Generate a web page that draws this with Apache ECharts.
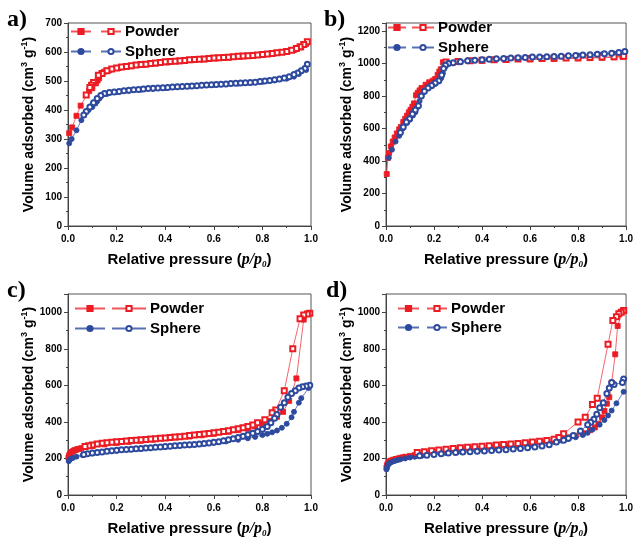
<!DOCTYPE html>
<html><head><meta charset="utf-8">
<script src="https://cdn.jsdelivr.net/npm/echarts@6/dist/echarts.min.js"></script>
<style>html,body{margin:0;padding:0;background:#fff}#c{width:636px;height:539px}</style>
</head><body><div id="c"></div>
<script>
// ---- data: [relative pressure p/p0, volume adsorbed cm3/g] ----
const xTicks = [0, 0.2, 0.4, 0.6, 0.8, 1.0];
const panelLabels = ['a)', 'b)', 'c)', 'd)'];
const legendNames = ['Powder', 'Sphere'];
const yMax = [700, 1250, 1100, 1100];
const yStep = [100, 200, 200, 200];

const aPowderAds = [[0.005,320],[0.017,340],[0.035,380],[0.052,415],[0.087,465],[0.1,475],[0.115,492],[0.122,502],[0.128,510],[0.148,532],[0.17,537],[0.21,545],[0.26,551],[0.31,556],[0.36,560],[0.41,564],[0.46,568],[0.51,572],[0.56,575],[0.61,578],[0.66,581],[0.71,584],[0.76,588],[0.81,592],[0.86,597],[0.9,603],[0.93,607],[0.96,616],[0.98,628]];
const aPowderDes = [[0.985,635],[0.97,626],[0.955,618],[0.94,612],[0.92,606],[0.9,602],[0.88,599],[0.86,597],[0.84,595],[0.82,593],[0.8,591],[0.78,590],[0.76,588],[0.74,587],[0.72,586],[0.7,585],[0.68,584],[0.66,582],[0.64,581],[0.62,580],[0.6,579],[0.58,578],[0.56,576],[0.54,575],[0.52,574],[0.5,573],[0.48,571],[0.46,570],[0.44,568],[0.42,567],[0.4,566],[0.38,564],[0.36,562],[0.34,560],[0.32,558],[0.3,557],[0.28,555],[0.26,553],[0.24,550],[0.22,548],[0.2,545],[0.18,541],[0.16,535],[0.14,526],[0.125,520],[0.105,495],[0.097,485],[0.09,478],[0.075,452]];
const aSphereAds = [[0.005,285],[0.015,300],[0.035,330],[0.055,365],[0.085,400],[0.1,410],[0.113,422],[0.12,430],[0.13,440],[0.16,455],[0.2,462],[0.25,466],[0.3,470],[0.35,473],[0.4,476],[0.45,479],[0.5,482],[0.55,485],[0.6,487],[0.65,489],[0.7,491],[0.75,494],[0.8,497],[0.85,502],[0.9,508],[0.93,515],[0.95,524],[0.98,538]];
const aSphereDes = [[0.985,558],[0.975,543],[0.96,535],[0.945,528],[0.93,522],[0.91,515],[0.89,510],[0.87,507],[0.85,504],[0.83,502],[0.81,500],[0.79,498],[0.77,496],[0.75,495],[0.73,494],[0.71,493],[0.69,492],[0.67,491],[0.65,490],[0.63,489],[0.61,488],[0.59,487],[0.57,486],[0.55,485],[0.53,484],[0.51,483],[0.49,482],[0.47,481],[0.45,480],[0.43,479],[0.41,478],[0.39,477],[0.37,476],[0.35,475],[0.33,474],[0.31,472],[0.29,471],[0.27,470],[0.25,468],[0.23,466],[0.21,464],[0.19,462],[0.17,460],[0.15,457],[0.135,450],[0.12,440],[0.105,425],[0.09,410],[0.075,395],[0.065,383]];

const bPowderAds = [[0.003,320],[0.008,420],[0.013,450],[0.02,490],[0.028,520],[0.036,545],[0.045,570],[0.055,595],[0.062,610],[0.072,640],[0.08,660],[0.088,680],[0.095,700],[0.102,715],[0.11,735],[0.117,755],[0.125,805],[0.132,820],[0.14,835],[0.148,850],[0.165,870],[0.18,885],[0.195,895],[0.205,905],[0.215,930],[0.222,950],[0.228,965],[0.237,1008],[0.3,1013],[0.4,1018],[0.5,1023],[0.6,1026],[0.7,1029],[0.8,1032],[0.85,1034],[0.9,1036],[0.95,1039],[0.985,1042]];
const bPowderDes = [[0.99,1045],[0.95,1042],[0.9,1040],[0.85,1038],[0.8,1036],[0.75,1035],[0.7,1033],[0.65,1032],[0.6,1030],[0.55,1028],[0.5,1026],[0.45,1024],[0.4,1020],[0.35,1017],[0.3,1013],[0.25,1010]];
const bSphereAds = [[0.012,420],[0.025,470],[0.04,520],[0.055,555],[0.07,600],[0.088,635],[0.1,655],[0.112,680],[0.122,700],[0.13,730],[0.14,770],[0.148,800],[0.158,825],[0.175,850],[0.19,860],[0.205,875],[0.218,890],[0.23,910],[0.237,940],[0.245,975],[0.255,1000],[0.3,1008],[0.4,1020],[0.5,1030],[0.6,1037],[0.7,1043],[0.8,1050],[0.85,1053],[0.9,1057],[0.95,1062],[0.985,1065]];
const bSphereDes = [[0.995,1075],[0.97,1068],[0.94,1064],[0.91,1060],[0.88,1057],[0.85,1055],[0.82,1053],[0.79,1050],[0.76,1048],[0.73,1046],[0.7,1044],[0.67,1042],[0.64,1041],[0.61,1040],[0.58,1038],[0.55,1036],[0.52,1034],[0.49,1032],[0.46,1030],[0.43,1027],[0.4,1024],[0.37,1021],[0.34,1017],[0.31,1012],[0.28,1005],[0.26,1000],[0.248,990],[0.24,970],[0.232,930],[0.22,895],[0.205,880],[0.19,865],[0.175,850],[0.16,830],[0.147,800],[0.135,740],[0.122,715],[0.11,690],[0.098,660],[0.085,640],[0.072,610],[0.06,575]];

const cPowderAds = [[0.002,205],[0.004,215],[0.007,222],[0.01,228],[0.014,233],[0.018,238],[0.023,242],[0.028,245],[0.034,248],[0.04,251],[0.047,253],[0.055,256],[0.1,268],[0.15,277],[0.2,285],[0.25,291],[0.3,297],[0.35,303],[0.44,315],[0.5,320],[0.55,327],[0.6,335],[0.66,346],[0.7,355],[0.74,363],[0.77,375],[0.8,388],[0.83,405],[0.86,428],[0.885,455],[0.91,515],[0.94,638],[0.97,960],[0.99,995]];
const cPowderDes = [[0.995,995],[0.985,990],[0.97,985],[0.955,965],[0.925,800],[0.89,570],[0.855,465],[0.84,450],[0.81,412],[0.78,395],[0.76,383],[0.74,375],[0.72,368],[0.7,362],[0.68,357],[0.66,352],[0.64,348],[0.62,344],[0.6,340],[0.58,337],[0.56,334],[0.54,331],[0.52,328],[0.5,325],[0.48,322],[0.46,319],[0.44,317],[0.42,314],[0.4,312],[0.38,310],[0.36,308],[0.34,306],[0.32,304],[0.3,302],[0.28,300],[0.26,298],[0.24,296],[0.22,293],[0.2,291],[0.18,289],[0.16,286],[0.14,283],[0.12,279],[0.1,274],[0.085,270],[0.07,266]];
const cSphereAds = [[0.003,185],[0.006,192],[0.01,197],[0.02,203],[0.035,210],[0.06,218],[0.1,227],[0.2,242],[0.3,252],[0.4,262],[0.5,272],[0.6,286],[0.65,293],[0.7,302],[0.74,310],[0.77,318],[0.8,328],[0.82,335],[0.84,343],[0.86,353],[0.88,368],[0.9,390],[0.92,425],[0.93,455],[0.95,505],[0.96,530],[0.99,585]];
const cSphereDes = [[0.995,600],[0.98,596],[0.965,592],[0.95,585],[0.935,570],[0.92,555],[0.905,535],[0.89,505],[0.875,480],[0.86,440],[0.85,420],[0.835,395],[0.82,375],[0.8,360],[0.78,348],[0.76,338],[0.74,330],[0.72,322],[0.7,315],[0.68,308],[0.66,302],[0.64,297],[0.62,292],[0.6,288],[0.58,285],[0.56,282],[0.54,279],[0.52,277],[0.5,275],[0.48,273],[0.46,271],[0.44,269],[0.42,267],[0.4,265],[0.38,263],[0.36,261],[0.34,259],[0.32,257],[0.3,255],[0.28,253],[0.26,251],[0.24,249],[0.22,247],[0.2,245],[0.18,242],[0.16,239],[0.14,236],[0.12,233],[0.1,230],[0.08,226],[0.065,222]];

const dPowderAds = [[0.002,150],[0.004,162],[0.007,172],[0.01,178],[0.015,184],[0.02,188],[0.03,193],[0.04,197],[0.05,200],[0.06,203],[0.07,206],[0.08,209],[0.1,214],[0.12,218],[0.15,224],[0.2,233],[0.25,241],[0.3,248],[0.35,254],[0.4,260],[0.45,265],[0.5,270],[0.55,275],[0.6,281],[0.65,288],[0.7,297],[0.73,305],[0.76,315],[0.79,325],[0.82,338],[0.85,355],[0.87,370],[0.885,390],[0.9,425],[0.91,460],[0.92,500],[0.93,535],[0.94,615],[0.955,770],[0.965,925],[0.985,1005],[0.992,1010]];
const dPowderDes = [[0.99,1010],[0.98,1000],[0.97,992],[0.96,975],[0.945,955],[0.925,825],[0.88,530],[0.86,495],[0.83,425],[0.8,400],[0.74,335],[0.72,315],[0.7,305],[0.67,298],[0.64,294],[0.61,290],[0.58,286],[0.55,282],[0.52,279],[0.49,276],[0.46,273],[0.43,270],[0.4,267],[0.37,264],[0.34,261],[0.31,258],[0.28,254],[0.25,250],[0.22,246],[0.19,242],[0.16,237],[0.13,232]];
const dSphereAds = [[0.002,140],[0.004,152],[0.007,162],[0.01,168],[0.015,174],[0.02,178],[0.03,184],[0.04,188],[0.05,192],[0.06,195],[0.08,200],[0.1,205],[0.12,209],[0.15,215],[0.2,223],[0.25,230],[0.3,237],[0.35,243],[0.4,249],[0.45,254],[0.5,259],[0.55,265],[0.6,272],[0.65,280],[0.7,290],[0.73,298],[0.76,307],[0.79,316],[0.82,328],[0.84,340],[0.86,358],[0.89,385],[0.91,410],[0.925,435],[0.94,462],[0.96,502],[0.99,565]];
const dSphereDes = [[0.99,635],[0.985,615],[0.95,605],[0.94,615],[0.93,585],[0.92,555],[0.905,505],[0.89,478],[0.878,442],[0.866,415],[0.853,398],[0.84,385],[0.81,350],[0.78,325],[0.76,310],[0.74,300],[0.71,290],[0.68,275],[0.65,268],[0.62,263],[0.59,258],[0.56,255],[0.53,252],[0.5,248],[0.47,246],[0.44,243],[0.41,241],[0.38,239],[0.35,237],[0.32,235],[0.29,233],[0.26,230],[0.23,226],[0.2,222],[0.17,218],[0.14,215]];

const panelData = [
  [aPowderAds, aPowderDes, aSphereAds, aSphereDes],
  [bPowderAds, bPowderDes, bSphereAds, bSphereDes],
  [cPowderAds, cPowderDes, cSphereAds, cSphereDes],
  [dPowderAds, dPowderDes, dSphereAds, dSphereDes]
];

// ---- styling / layout ----
const RED = '#ec1c24', BLUE = '#2e4a9e';
const RED_LINE = '#f0555b', BLUE_LINE = '#5870b4';
const SANS = 'Liberation Sans', SERIF = 'Liberation Serif';
const grids = [
  {left: 68, top: 23, width: 243, height: 203},
  {left: 386, top: 23, width: 243, height: 203},
  {left: 68, top: 294, width: 243, height: 203},
  {left: 386, top: 294, width: 243, height: 203}
];
const titlePos = [[7, 8], [324, 8], [7, 279], [326, 279]];
// legend layout: [filled left, filled width, open left, open width, top, gap]
const legPos = [
  [70, 20, 100, 20, 24, 5],
  [387, 18, 411, 22, 20, 5],
  [74, 30, 111, 34, 301, 5],
  [397, 21, 426, 20, 301, 4]
];

const axisTxt = {fontFamily: SANS, fontWeight: 'bold', fontSize: 10, color: '#000'};
const nameRichBase = {
  b: {fontFamily: SANS, fontWeight: 'bold', fontSize: 15, color: '#000'},
  i: {fontFamily: SERIF, fontWeight: 'bold', fontStyle: 'italic', fontSize: 16, color: '#000'},
  s: {fontFamily: SERIF, fontWeight: 'bold', fontStyle: 'italic', fontSize: 9, color: '#000', padding: [9, 0, 0, 0]},
  sup: {fontFamily: SANS, fontWeight: 'bold', fontSize: 9, color: '#000', padding: [0, 0, 9, 0]}
};

const option = {
  animation: false,
  backgroundColor: '#fff',
  title: panelLabels.map((t, i) => ({
    text: t, left: titlePos[i][0], top: titlePos[i][1], padding: 0,
    textStyle: {fontFamily: SERIF, fontWeight: 'bold', fontSize: 24, color: '#000'}
  })),
  grid: grids.map(g => Object.assign({show: true, borderColor: '#555', borderWidth: 1, backgroundColor: 'transparent'}, g)),
  xAxis: grids.map((g, i) => ({
    type: 'value', gridIndex: i, min: xTicks[0], max: xTicks[xTicks.length - 1], interval: 0.2,
    axisLine: {lineStyle: {color: '#444', width: 1}},
    axisTick: {length: 4, lineStyle: {color: '#444'}},
    minorTick: {show: true, splitNumber: 2, length: 2, lineStyle: {color: '#444'}},
    splitLine: {show: false},
    axisLabel: Object.assign({margin: 8, formatter: v => v.toFixed(1)}, axisTxt),
    name: '{b|Relative pressure (}{i|p/p}{s|0}{b|)}',
    nameLocation: 'middle', nameGap: 25,
    nameTextStyle: {rich: nameRichBase}
  })),
  yAxis: grids.map((g, i) => ({
    type: 'value', gridIndex: i, min: 0, max: yMax[i], interval: yStep[i],
    axisLine: {show: true, lineStyle: {color: '#444', width: 1}},
    axisTick: {show: true, length: 4, lineStyle: {color: '#444'}},
    minorTick: {show: true, splitNumber: 2, length: 2, lineStyle: {color: '#444'}},
    splitLine: {show: false},
    axisLabel: Object.assign({margin: 6, showMaxLabel: yMax[i] % yStep[i] === 0,
      formatter: v => (v % yStep[i] === 0 ? String(v) : '')}, axisTxt),
    name: '{b|Volume adsorbed (cm}{sup|3}{b| g}{sup|-1}{b|)}',
    nameLocation: 'middle', nameGap: 30, nameRotate: 90,
    nameTextStyle: {rich: Object.assign({}, nameRichBase, {b: Object.assign({}, nameRichBase.b, {fontSize: 14})})}
  })),
  legend: [],
  series: []
};

const kinds = [
  {col: RED, line: RED_LINE, sym: 'rect', label: 0},
  {col: RED, line: RED_LINE, sym: 'emptyRect', label: 0},
  {col: BLUE, line: BLUE_LINE, sym: 'circle', label: 1},
  {col: BLUE, line: BLUE_LINE, sym: 'emptyCircle', label: 1}
];
const labelOf = {};
panelData.forEach((arrs, p) => {
  arrs.forEach((arr, k) => {
    const kd = kinds[k];
    const nm = 'p' + p + 's' + k;
    labelOf[nm] = legendNames[kd.label];
    option.series.push({
      name: nm, type: 'line', xAxisIndex: p, yAxisIndex: p, data: arr,
      symbol: kd.sym, symbolSize: 5,
      showAllSymbol: true, clip: true,
      lineStyle: {color: kd.line, width: 0.9},
      itemStyle: {color: kd.col, borderColor: kd.col, borderWidth: 0.9},
      z: 2 + (k % 2),
      emphasis: {disabled: true}
    });
  });
  const L = legPos[p];
  const legBase = {
    orient: 'vertical', top: L[4], padding: 0, itemGap: L[5], itemHeight: 6.5,
    selectedMode: false,
    textStyle: {fontFamily: SANS, fontWeight: 'bold', fontSize: 15, color: '#000', padding: [0, 0, 0, -1]}
  };
  option.legend.push(Object.assign({}, legBase, {
    left: L[0], itemWidth: L[1], data: ['p' + p + 's0', 'p' + p + 's2'], formatter: () => ' '
  }));
  option.legend.push(Object.assign({}, legBase, {
    left: L[2], itemWidth: L[3], data: ['p' + p + 's1', 'p' + p + 's3'], formatter: n => labelOf[n]
  }));
});

const chart = echarts.init(document.getElementById('c'), null, {renderer: 'canvas'});
chart.setOption(option);
</script>
</body></html>
